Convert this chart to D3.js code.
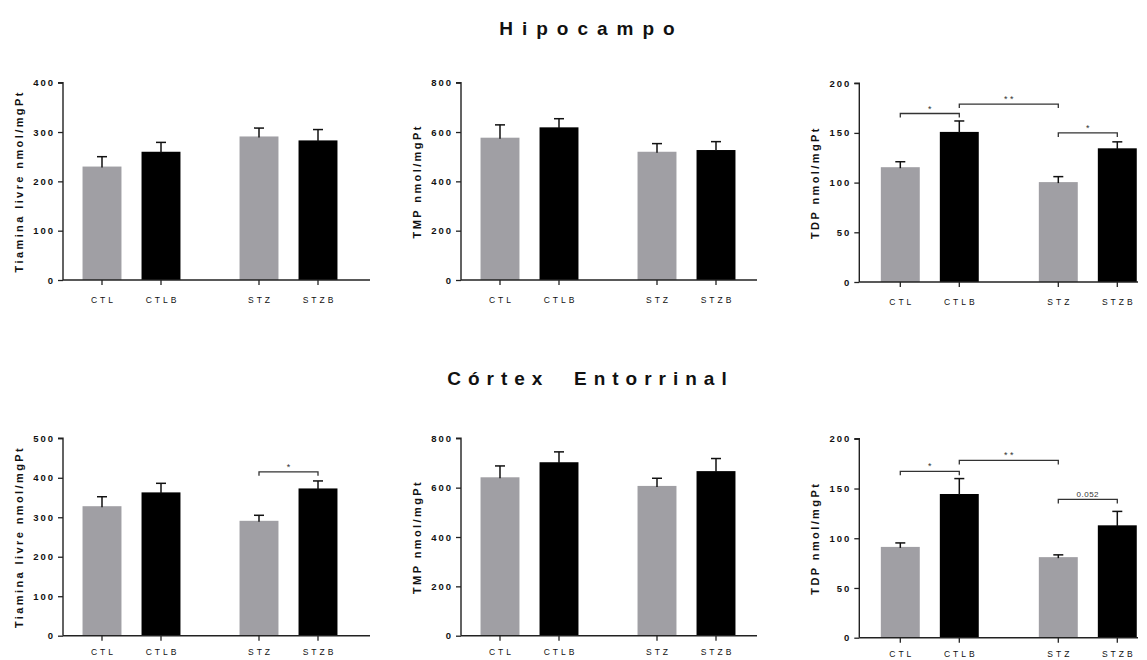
<!DOCTYPE html>
<html><head><meta charset="utf-8">
<script src="https://cdn.jsdelivr.net/npm/d3@7/dist/d3.min.js"></script>
<style>
html,body{margin:0;padding:0;background:#fff;}
svg{display:block;font-family:"Liberation Sans",Arial,sans-serif;}
</style></head>
<body>
<svg id="chart" width="1147" height="660"></svg>
<script>
// ---- data ----
const categories = ["CTL", "CTLB", "STZ", "STZB"];
const groups = ["CTL", "STZ"];
const sectionTitles = ["Hipocampo", "Córtex  Entorrinal"];
const yLabels = ["Tiamina livre nmol/mgPt", "TMP nmol/mgPt", "TDP nmol/mgPt"];

const hipoTiamina = [230, 260, 291, 283];
const hipoTiaminaErr = [20, 19, 17, 22];
const hipoTMP = [577, 619, 520, 527];
const hipoTMPErr = [52, 35, 33, 34];
const hipoTDP = [115.5, 151, 100.5, 134.5];
const hipoTDPErr = [5.5, 11, 5.5, 6.5];

const ceTiamina = [328, 363, 291, 373];
const ceTiaminaErr = [24, 23, 14, 19];
const ceTMP = [642, 703, 607, 667];
const ceTMPErr = [46, 42, 31, 51];
const ceTDP = [91.3, 144.5, 81, 113];
const ceTDPErr = [4, 15.5, 2.3, 14];

const yMaxTiaminaHipo = 400, yMaxTiaminaCE = 500, yMaxTMP = 800, yMaxTDP = 200;
const ticksTiaminaHipo = [0, 100, 200, 300, 400];
const ticksTiaminaCE = [0, 100, 200, 300, 400, 500];
const ticksTMP = [0, 200, 400, 600, 800];
const ticksTDP = [0, 50, 100, 150, 200];

const hipoTDPBrackets = [
  {from: "CTL", to: "CTLB", value: 169.5, label: "*"},
  {from: "CTLB", to: "STZ", value: 179, label: "* *"},
  {from: "STZ", to: "STZB", value: 150, label: "*"}
];
const ceTiaminaBrackets = [
  {from: "STZ", to: "STZB", value: 415, label: "*"}
];
const ceTDPBrackets = [
  {from: "CTL", to: "CTLB", value: 167.3, label: "*"},
  {from: "CTLB", to: "STZ", value: 178.3, label: "* *"},
  {from: "STZ", to: "STZB", value: 139, label: "0.052"}
];

// ---- layout ----
const svg = d3.select("#chart");
const colAxisX = [63, 461, 859.3];
const colRight = [370, 757, 1138];
const colShift = [0, 0, 2];
const rows = [{top: 82.7, base: 280, labelOff: 23}, {top: 438.3, base: 635.7, labelOff: 19.5}];

const panels = [
  {col: 0, row: 0, vals: hipoTiamina, errs: hipoTiaminaErr, max: yMaxTiaminaHipo, ticks: ticksTiaminaHipo, label: yLabels[0], br: []},
  {col: 1, row: 0, vals: hipoTMP, errs: hipoTMPErr, max: yMaxTMP, ticks: ticksTMP, label: yLabels[1], br: []},
  {col: 2, row: 0, vals: hipoTDP, errs: hipoTDPErr, max: yMaxTDP, ticks: ticksTDP, label: yLabels[2], br: hipoTDPBrackets},
  {col: 0, row: 1, vals: ceTiamina, errs: ceTiaminaErr, max: yMaxTiaminaCE, ticks: ticksTiaminaCE, label: yLabels[0], br: ceTiaminaBrackets},
  {col: 1, row: 1, vals: ceTMP, errs: ceTMPErr, max: yMaxTMP, ticks: ticksTMP, label: yLabels[1], br: []},
  {col: 2, row: 1, vals: ceTDP, errs: ceTDPErr, max: yMaxTDP, ticks: ticksTDP, label: yLabels[2], br: ceTDPBrackets}
];

// titles
const titleY = [35, 385];
const titleSpacing = [9, 7];
sectionTitles.forEach((t, i) => {
  svg.append("text")
    .attr("x", 587 + titleSpacing[i] / 2).attr("y", titleY[i])
    .attr("text-anchor", "middle")
    .style("font-size", "19px").style("font-weight", "bold")
    .style("letter-spacing", titleSpacing[i] + "px")
    .style("white-space", "pre")
    .attr("fill", "#111")
    .text(t);
});

const axisColor = "#222";
panels.forEach(p => {
  const ax = colAxisX[p.col];
  const sh = colShift[p.col];
  const top = rows[p.row].top + (p.col === 2 ? 0.5 : 0);
  const base = rows[p.row].base + sh;
  const labelY = Math.min(base + rows[p.row].labelOff, 657.5);
  const y = d3.scaleLinear().domain([0, p.max]).range([base, top]);
  const outer = d3.scaleBand().domain(groups).range(p.col === 2 ? [ax - 8, ax + 308] : [ax - 10, ax + 304]);
  const inner = d3.scaleBand().domain(["", "B"]).range([19.5, 137.5]).paddingInner(0.34).paddingOuter(0.17);
  const xPos = c => outer(c.replace(/B$/, "")) + inner(c.endsWith("B") ? "B" : "");
  const xCenter = c => xPos(c) + inner.bandwidth() / 2;
  const g = svg.append("g");

  // bars
  g.selectAll("rect.bar").data(categories).join("rect")
    .attr("class", "bar")
    .attr("x", c => xPos(c))
    .attr("width", inner.bandwidth())
    .attr("y", (c, i) => y(p.vals[i]))
    .attr("height", (c, i) => base - y(p.vals[i]))
    .attr("fill", c => c.endsWith("B") ? "#000" : "#a09fa4");

  // error bars
  categories.forEach((c, i) => {
    const cx = xCenter(c);
    const y0 = y(p.vals[i]), y1 = y(p.vals[i] + p.errs[i]);
    g.append("line").attr("x1", cx).attr("x2", cx).attr("y1", y0 + 1).attr("y2", y1)
      .attr("stroke", "#111").attr("stroke-width", 1.5);
    g.append("line").attr("x1", cx - 5).attr("x2", cx + 5).attr("y1", y1).attr("y2", y1)
      .attr("stroke", "#111").attr("stroke-width", 1.5);
  });

  // y axis
  const yAxis = d3.axisLeft(y).tickValues(p.ticks).tickSize(5).tickPadding(5).tickFormat(d3.format("d"));
  const ya = g.append("g").attr("transform", `translate(${ax},0)`).call(yAxis);
  ya.select(".domain").attr("stroke", axisColor).attr("stroke-width", 1.4).attr("d", `M-5,${y(p.max)}H0V${base}`);
  ya.selectAll(".tick line").attr("stroke", axisColor).attr("stroke-width", 1.3);
  ya.selectAll(".tick text")
    .attr("dx", "2px")
    .style("font-family", "'Liberation Sans',Arial,sans-serif")
    .style("font-size", "9.5px").style("font-weight", "bold")
    .style("letter-spacing", "2px").attr("fill", "#111");

  // x axis
  const xa = g.append("g");
  xa.append("line").attr("x1", ax).attr("x2", colRight[p.col]).attr("y1", base).attr("y2", base)
    .attr("stroke", axisColor).attr("stroke-width", 1.4);
  xa.selectAll("line.xt").data(categories).join("line").attr("class", "xt")
    .attr("x1", c => xCenter(c)).attr("x2", c => xCenter(c))
    .attr("y1", base).attr("y2", base + 5)
    .attr("stroke", axisColor).attr("stroke-width", 1.3);
  xa.selectAll("text.xl").data(categories).join("text").attr("class", "xl")
    .attr("x", c => xCenter(c) + 1.5).attr("y", labelY)
    .attr("text-anchor", "middle")
    .style("font-size", "8.5px").style("letter-spacing", "3px")
    .attr("fill", "#111")
    .text(c => c);

  // y label
  g.append("text")
    .attr("transform", `translate(${ax - 40},${(top + base) / 2}) rotate(-90)`)
    .attr("text-anchor", "middle")
    .style("font-size", "11px").style("font-weight", "bold")
    .style("letter-spacing", "2.4px")
    .attr("fill", "#111")
    .text(p.label);

  // significance brackets
  p.br.forEach(b => {
    const x1 = xCenter(b.from), x2 = xCenter(b.to), yy = y(b.value);
    g.append("path").attr("d", `M${x1},${yy + 4}V${yy}H${x2}V${yy + 4}`)
      .attr("fill", "none").attr("stroke", "#333").attr("stroke-width", 1.3);
    g.append("text").attr("x", (x1 + x2) / 2).attr("y", yy - 2)
      .attr("text-anchor", "middle")
      .style("font-size", b.label === "0.052" ? "8px" : "9px")
      .style("letter-spacing", b.label === "0.052" ? "0.5px" : "0px")
      .style("white-space", "pre")
      .attr("fill", "#333")
      .text(b.label);
  });
});
</script>
</body></html>
